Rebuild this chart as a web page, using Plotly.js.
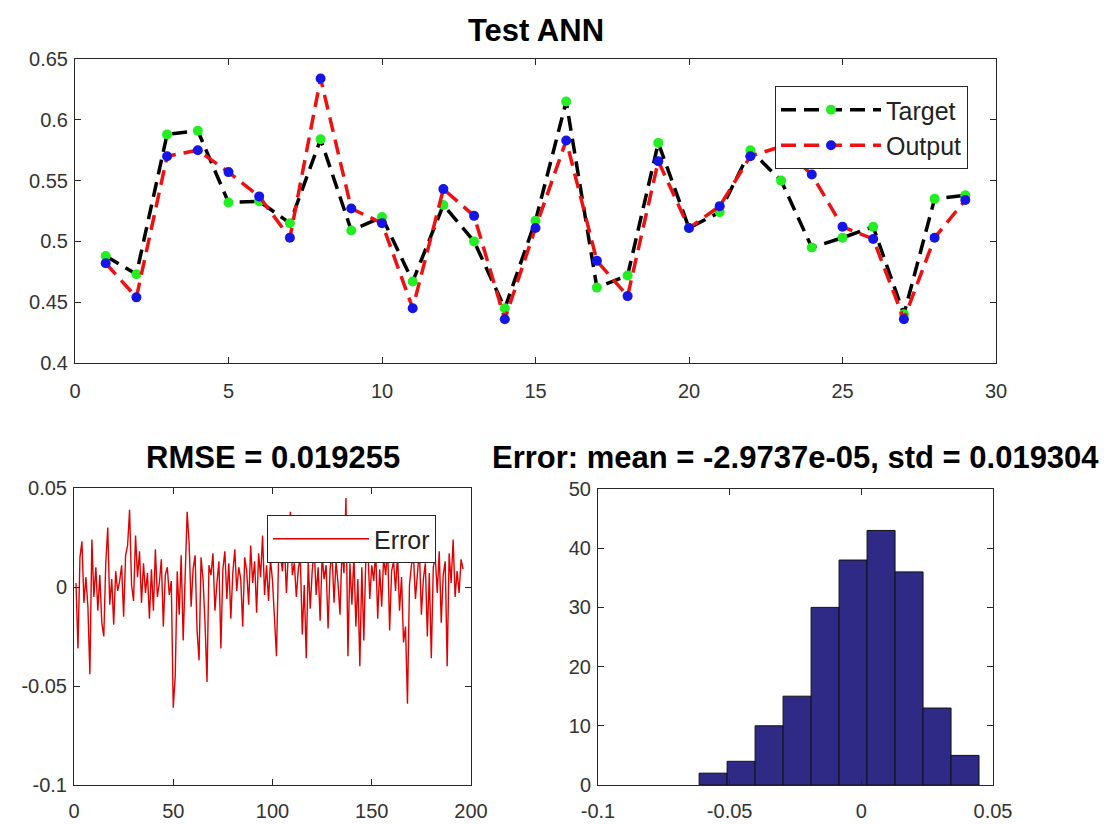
<!DOCTYPE html>
<html>
<head>
<meta charset="utf-8">
<script src="https://cdn.plot.ly/plotly-3.0.1.min.js"></script>
<style>html,body{margin:0;padding:0;background:#fff;}#plot{width:1111px;height:825px;}</style>
</head>
<body>
<div id="plot"></div>
<script>
// ---- data ----
const sampleIndex = [1,2,3,4,5,6,7,8,9,10,11,12,13,14,15,16,17,18,19,20,21,22,23,24,25,26,27,28,29];
const targetValues = [0.488,0.473,0.588,0.591,0.532,0.533,0.515,0.584,0.509,0.520,0.467,0.530,0.500,0.445,0.517,0.615,0.462,0.472,0.581,0.511,0.524,0.575,0.550,0.495,0.503,0.512,0.440,0.535,0.538];
const outputValues = [0.482,0.454,0.570,0.575,0.557,0.537,0.503,0.634,0.527,0.515,0.445,0.543,0.521,0.436,0.511,0.583,0.484,0.455,0.566,0.511,0.529,0.570,0.578,0.555,0.512,0.502,0.436,0.503,0.534];

const errorValues = [
 0.002,-0.031,0.015,0.023,-0.008,0.005,-0.010,-0.044,0.024,-0.005,
 0.010,-0.012,0.006,-0.018,-0.025,0.012,0.030,-0.009,0.004,-0.019,
 0.008,-0.002,0.003,0.011,-0.015,0.016,0.021,0.039,0.001,-0.007,
 0.026,0.005,0.018,-0.008,0.012,-0.003,0.007,-0.016,0.009,-0.012,
 0.019,-0.005,0.002,0.014,-0.020,0.006,0.010,-0.004,0.003,-0.061,
 -0.045,0.008,-0.014,0.016,-0.027,0.012,0.038,0.022,-0.010,0.009,
 0.016,-0.022,-0.037,0.015,0.004,-0.018,-0.048,0.011,0.006,0.017,
 -0.012,0.002,0.013,-0.031,0.009,0.018,-0.006,0.012,-0.016,0.007,
 0.019,-0.002,0.010,0.004,-0.020,0.015,0.008,-0.009,0.021,0.002,
 0.013,-0.013,0.017,0.005,0.026,-0.004,0.011,-0.007,0.014,0.003,
 -0.015,-0.035,0.012,0.016,0.008,0.022,-0.003,0.018,0.038,0.006,
 0.012,-0.005,0.009,0.015,-0.024,0.001,-0.036,0.013,-0.011,0.008,
 0.020,-0.004,0.010,-0.017,0.016,0.004,0.011,-0.021,0.009,0.017,
 -0.008,0.013,0.002,-0.014,0.019,0.007,0.045,-0.035,0.012,-0.009,
 0.016,-0.020,0.004,-0.040,0.010,-0.027,0.014,0.021,-0.006,0.011,
 0.003,0.018,-0.016,0.009,-0.010,0.015,0.006,0.020,-0.022,0.008,
 0.013,-0.002,0.017,-0.012,0.005,-0.028,-0.020,-0.059,0.001,0.011,
 0.016,-0.006,0.009,0.019,-0.014,0.004,0.012,-0.025,0.007,-0.036,
 0.010,0.015,-0.003,0.018,-0.018,0.006,0.013,-0.040,0.017,0.002,
 0.024,-0.005,0.008,-0.003,0.014,0.009
];
const errorIndex = errorValues.map((_, i) => i + 1);

const histBinCenters = [-0.05629,-0.04566,-0.03503,-0.02440,-0.01377,-0.00314,0.00749,0.01812,0.02875,0.03938];
const histCounts = [2,4,10,15,30,38,43,36,13,5];
const histBinWidth = 0.01063;

const topXTicks = [0,5,10,15,20,25,30];
const topYTicks = [0.4,0.45,0.5,0.55,0.6,0.65];
const topYTickText = ['0.4','0.45','0.5','0.55','0.6','0.65'];
const errXTicks = [0,50,100,150,200];
const errYTicks = [-0.1,-0.05,0,0.05];
const errYTickText = ['-0.1','-0.05','0','0.05'];
const histXTicks = [-0.1,-0.05,0,0.05];
const histXTickText = ['-0.1','-0.05','0','0.05'];
const histYTicks = [0,10,20,30,40,50];

const titleTop = 'Test ANN';
const titleRmse = 'RMSE = 0.019255';
const titleErr = 'Error: mean = -2.9737e-05, std = 0.019304';

// ---- layout helpers (pixel boxes -> paper fractions) ----
const W = 1111, H = 825;
const px = (a, b) => [a / W, b / W];
const py = (top, bottom) => [1 - bottom / H, 1 - top / H];

const FONT = 'Liberation Sans, Arial, Helvetica, sans-serif';
const AX = '#262626';
const tickFont = {family: FONT, size: 20, color: '#333333'};

function axisBase(extra) {
  return Object.assign({
    showline: true, linecolor: AX, linewidth: 1, mirror: 'ticks',
    ticks: 'inside', ticklen: 6, tickcolor: AX, tickwidth: 1,
    showgrid: false, zeroline: false, tickfont: tickFont, fixedrange: true
  }, extra);
}

const traces = [
  {x: sampleIndex, y: targetValues, type: 'scatter', mode: 'lines+markers', name: 'Target',
   xaxis: 'x', yaxis: 'y', legend: 'legend',
   line: {color: '#000000', width: 3.5, dash: '15px,8px'},
   marker: {color: '#22ee22', size: 10, symbol: 'circle'}},
  {x: sampleIndex, y: outputValues, type: 'scatter', mode: 'lines+markers', name: 'Output',
   xaxis: 'x', yaxis: 'y', legend: 'legend',
   line: {color: '#ee1111', width: 3.5, dash: '15px,8px'},
   marker: {color: '#1515e6', size: 10, symbol: 'circle'}},
  {x: errorIndex, y: errorValues, type: 'scatter', mode: 'lines', name: 'Error',
   xaxis: 'x2', yaxis: 'y2', legend: 'legend2',
   line: {color: '#e00000', width: 1.4}},
  {x: histBinCenters, y: histCounts, type: 'bar', width: histBinWidth, name: 'hist',
   xaxis: 'x3', yaxis: 'y3', showlegend: false,
   marker: {color: '#2e2a85', line: {color: '#111111', width: 1}}}
];

const layout = {
  width: W, height: H,
  margin: {l: 0, r: 0, t: 0, b: 0},
  paper_bgcolor: '#ffffff', plot_bgcolor: '#ffffff',
  font: {family: FONT, color: AX},
  title: {text: '<b>' + titleTop + '</b>', font: {family: FONT, size: 31, color: '#000'},
          x: 536 / W, xanchor: 'center', y: 1 - 30 / H, yanchor: 'middle'},
  xaxis: axisBase({domain: px(75, 996), range: [0, 30], tickvals: topXTicks, anchor: 'y', ticklabelstandoff: 10}),
  yaxis: axisBase({domain: py(59, 363), range: [0.4, 0.65], tickvals: topYTicks, ticktext: topYTickText, anchor: 'x', ticklabelstandoff: 2}),
  xaxis2: axisBase({domain: px(74, 471), range: [0, 200], tickvals: errXTicks, anchor: 'y2', ticklabelstandoff: 8}),
  yaxis2: axisBase({domain: py(488, 785), range: [-0.1, 0.05], tickvals: errYTicks, ticktext: errYTickText, anchor: 'x2', ticklabelstandoff: 2}),
  xaxis3: axisBase({domain: px(598, 993), range: [-0.1, 0.05], tickvals: histXTicks, ticktext: histXTickText, anchor: 'y3', ticklabelstandoff: 8}),
  yaxis3: axisBase({domain: py(489, 785), range: [0, 50], tickvals: histYTicks, anchor: 'x3', ticklabelstandoff: 2}),
  legend: {x: 775 / W, y: 1 - 86 / H, xanchor: 'left', yanchor: 'top',
           bgcolor: '#ffffff', bordercolor: AX, borderwidth: 1, itemwidth: 100,
           font: {family: FONT, size: 25, color: '#222'}, tracegroupgap: 0},
  legend2: {x: 267 / W, y: 1 - 515 / H, xanchor: 'left', yanchor: 'top',
           bgcolor: '#ffffff', bordercolor: AX, borderwidth: 1, itemwidth: 96,
           font: {family: FONT, size: 25, color: '#222'}},
  bargap: 0,
  annotations: [
    {text: '<b>' + titleRmse + '</b>', xref: 'paper', yref: 'paper', x: 272.5 / W, y: 1 - 457 / H,
     xanchor: 'center', yanchor: 'middle', showarrow: false, font: {family: FONT, size: 31, color: '#000'}},
    {text: '<b>' + titleErr + '</b>', xref: 'paper', yref: 'paper', x: 795.5 / W, y: 1 - 457 / H,
     xanchor: 'center', yanchor: 'middle', showarrow: false, font: {family: FONT, size: 31, color: '#000'}}
  ]
};

Plotly.newPlot('plot', traces, layout, {staticPlot: true, displayModeBar: false});
</script>
</body>
</html>
